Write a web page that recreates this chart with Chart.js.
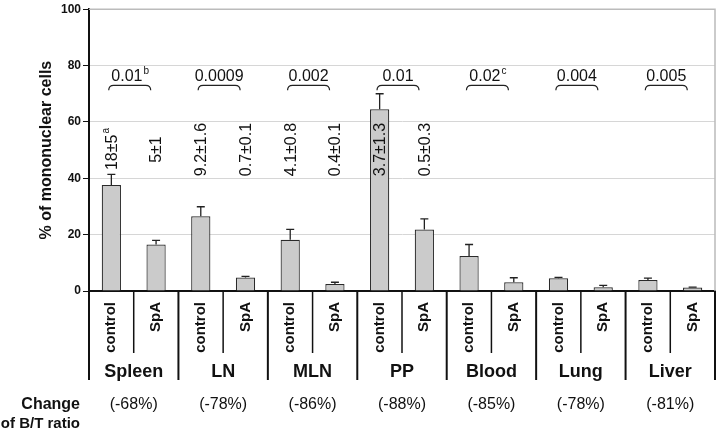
<!DOCTYPE html>
<html>
<head>
<meta charset="utf-8">
<script src="https://cdn.jsdelivr.net/npm/chart.js@4"></script>
<style>
  html, body { margin: 0; padding: 0; background: #fff; }
  #wrap { width: 720px; height: 433px; }
</style>
</head>
<body>
<div id="wrap"><canvas id="chart" width="720" height="433"></canvas></div>
<script>
const tissues = ['Spleen', 'LN', 'MLN', 'PP', 'Blood', 'Lung', 'Liver'];
const groups = ['control', 'SpA'];
const controlMeans = [37.6, 26.5, 18.2, 64.5, 12.4, 4.5, 3.9];
const controlErrors = [3.8, 3.4, 3.7, 5.5, 4.1, 0.3, 0.7];
const spaMeans = [16.5, 4.8, 2.5, 21.8, 3.1, 1.3, 1.2];
const spaErrors = [1.5, 0.4, 0.6, 3.8, 1.6, 0.7, 0.2];
const pValues = ['0.01', '0.0009', '0.002', '0.01', '0.02', '0.004', '0.005'];
const pNotes = ['b', '', '', '', 'c', '', ''];
const controlCounts = ['18±5', '9.2±1.6', '4.1±0.8', '3.7±1.3', '', '', ''];
const controlNotes = ['a', '', '', '', '', '', ''];
const spaCounts = ['5±1', '0.7±0.1', '0.4±0.1', '0.5±0.3', '', '', ''];
const ratioChanges = ['(-68%)', '(-78%)', '(-86%)', '(-88%)', '(-85%)', '(-78%)', '(-81%)'];
const yTicks = [0, 20, 40, 60, 80, 100];

const FONT = '"Liberation Sans", Arial, Helvetica, sans-serif';

// interleave control / SpA for each tissue
const labels = [];
const values = [];
const errors = [];
tissues.forEach((t, i) => {
    labels.push(groups[0], groups[1]);
    values.push(controlMeans[i], spaMeans[i]);
    errors.push(controlErrors[i], spaErrors[i]);
});

// text with an optional small superscript after it
function drawWithSup(ctx, text, sup, x, y, size) {
    ctx.font = size + 'px ' + FONT;
    const w = ctx.measureText(text).width;
    let sw = 0;
    if (sup) {
        ctx.font = Math.round(size * 0.62) + 'px ' + FONT;
        sw = ctx.measureText(sup).width;
    }
    const start = x - (w + sw) / 2;
    ctx.font = size + 'px ' + FONT;
    ctx.textAlign = 'left';
    ctx.textBaseline = 'middle';
    ctx.fillText(text, start, y);
    if (sup) {
        ctx.font = Math.round(size * 0.62) + 'px ' + FONT;
        ctx.fillText(sup, start + w + 1, y - size * 0.38);
    }
}

const extras = {
    id: 'extras',
    afterDatasetsDraw(chart) {
        const ctx = chart.ctx;
        const x = chart.scales.x;
        const y = chart.scales.y;
        ctx.save();
        ctx.strokeStyle = '#222';
        ctx.lineWidth = 1.3;
        values.forEach((v, i) => {
            const px = x.getPixelForValue(i);
            const top = y.getPixelForValue(v);
            const end = y.getPixelForValue(v + errors[i]);
            ctx.beginPath();
            ctx.moveTo(px, top);
            ctx.lineTo(px, end);
            ctx.moveTo(px - 4, end);
            ctx.lineTo(px + 4, end);
            ctx.stroke();
        });
        ctx.restore();
    },
    afterDraw(chart) {
        const ctx = chart.ctx;
        const x = chart.scales.x;
        const y = chart.scales.y;
        const area = chart.chartArea;
        const slot = x.getPixelForValue(1) - x.getPixelForValue(0);
        ctx.save();
        ctx.fillStyle = '#111';

        // frame right side
        ctx.strokeStyle = '#bbb';
        ctx.lineWidth = 1.5;
        ctx.beginPath();
        ctx.moveTo(area.left, area.top);
        ctx.lineTo(area.right, area.top);
        ctx.lineTo(area.right, area.bottom);
        ctx.stroke();

        // brackets with p values
        const by = y.getPixelForValue(73);
        tissues.forEach((t, i) => {
            const c = x.getPixelForValue(2 * i) + slot / 2 - 4;
            const x1 = c - 21, x2 = c + 21;
            ctx.strokeStyle = '#222';
            ctx.lineWidth = 1.2;
            ctx.beginPath();
            ctx.moveTo(x1, by + 5);
            ctx.quadraticCurveTo(x1, by, x1 + 5, by);
            ctx.lineTo(x2 - 5, by);
            ctx.quadraticCurveTo(x2, by, x2, by + 5);
            ctx.stroke();
            drawWithSup(ctx, pValues[i], pNotes[i], c, y.getPixelForValue(76), 16);
        });

        // vertical counts
        const cy = y.getPixelForValue(50.2);
        tissues.forEach((t, i) => {
            [[controlCounts[i], controlNotes[i], 2 * i], [spaCounts[i], '', 2 * i + 1]].forEach(([txt, sup, idx]) => {
                if (!txt) return;
                ctx.save();
                ctx.translate(x.getPixelForValue(idx) + 1, cy);
                ctx.rotate(-Math.PI / 2);
                drawWithSup(ctx, txt, sup, 0, 0, 16);
                ctx.restore();
            });
        });

        // table lines under the axis
        ctx.strokeStyle = '#111';
        tissues.forEach((t, i) => {
            const left = x.getPixelForValue(2 * i) - slot / 2;
            const mid = x.getPixelForValue(2 * i) + slot / 2;
            ctx.lineWidth = 2;
            ctx.beginPath();
            ctx.moveTo(left, area.bottom);
            ctx.lineTo(left, 380);
            ctx.stroke();
            ctx.lineWidth = 1.5;
            ctx.beginPath();
            ctx.moveTo(mid, area.bottom);
            ctx.lineTo(mid, 353);
            ctx.stroke();

            ctx.font = 'bold 18px ' + FONT;
            ctx.textAlign = 'center';
            ctx.textBaseline = 'middle';
            ctx.fillText(t, mid, 372);
            ctx.font = '16px ' + FONT;
            ctx.fillText(ratioChanges[i], mid, 405);
        });
        ctx.lineWidth = 2;
        ctx.beginPath();
        ctx.moveTo(area.right, area.bottom);
        ctx.lineTo(area.right, 380);
        ctx.stroke();

        ctx.textAlign = 'right';
        ctx.font = 'bold 16px ' + FONT;
        ctx.fillText('Change', 80, 405);
        ctx.font = 'bold 15px ' + FONT;
        ctx.fillText('of B/T ratio', 80, 424);
        ctx.restore();
    }
};

const ctx = document.getElementById('chart').getContext('2d');
new Chart(ctx, {
    type: 'bar',
    data: {
        labels: labels,
        datasets: [{
            data: values,
            backgroundColor: '#cbcbcb',
            borderColor: '#2a2a2a',
            borderWidth: 1.2,
            barPercentage: 0.43,
            categoryPercentage: 1
        }]
    },
    options: {
        responsive: false,
        animation: false,
        layout: { padding: { top: 7, right: 5, left: 0, bottom: 0 } },
        plugins: {
            legend: { display: false },
            tooltip: { enabled: false }
        },
        scales: {
            x: {
                grid: { display: false },
                border: { color: '#111', width: 2 },
                ticks: {
                    autoSkip: false,
                    minRotation: 90,
                    maxRotation: 90,
                    padding: 3,
                    color: '#111',
                    font: { family: FONT, size: 15, weight: 'bold' }
                },
                afterFit(scale) { scale.height = 142; }
            },
            y: {
                min: 0,
                max: 100,
                afterBuildTicks(scale) { scale.ticks = yTicks.map(v => ({ value: v })); },
                grid: { color: '#d6d6d6', lineWidth: 1, tickLength: 6, tickColor: '#111' },
                border: { color: '#111', width: 2 },
                ticks: {
                    padding: 2,
                    color: '#111',
                    font: { family: FONT, size: 12, weight: 'bold' }
                },
                title: {
                    display: true,
                    text: '% of mononuclear cells',
                    color: '#111',
                    padding: { top: 37, bottom: 0 },
                    font: { family: FONT, size: 16, weight: 'bold' }
                },
                afterFit(scale) { scale.width = 89; }
            }
        }
    },
    plugins: [extras]
});
</script>
</body>
</html>
